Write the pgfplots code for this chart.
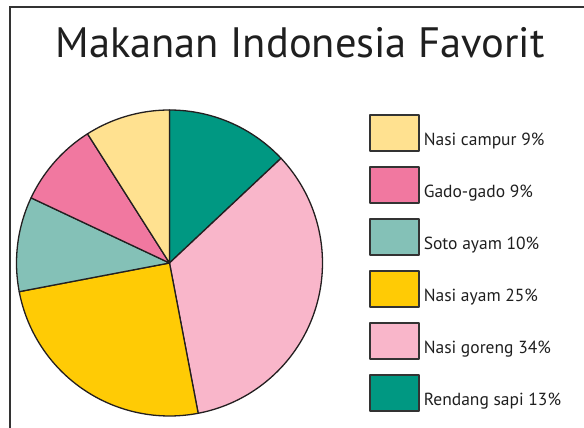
\documentclass[border=0pt]{standalone}
\usepackage{pgfplots}
\pgfplotsset{compat=1.18}
\usepackage{fontspec}
\setmainfont{PT Sans}
\definecolor{cCampur}{HTML}{FFE190}
\definecolor{cGado}{HTML}{F178A0}
\definecolor{cSoto}{HTML}{84C1B7}
\definecolor{cAyam}{HTML}{FFCB05}
\definecolor{cGoreng}{HTML}{F9B6CA}
\definecolor{cRendang}{HTML}{009882}
\definecolor{edge}{HTML}{231F20}
\definecolor{frame}{HTML}{333333}
% percentages, clockwise from the top
\def\pRendang{13}
\def\pGoreng{34}
\def\pAyam{25}
\def\pSoto{10}
\def\pGado{9}
\def\pCampur{9}
\begin{document}
\begin{tikzpicture}[x=1pt,y=1pt]
\useasboundingbox (0,0) rectangle (584,428);
\draw[frame, line width=2pt] (10,0) -- (10,421) -- (584,421);
\node[anchor=base, inner sep=0pt, font=\fontsize{42.5}{48}\selectfont, text=black!88] at (300,370) {Makanan Indonesia Favorit};
\pgfmathsetmacro\aA{90}
\pgfmathsetmacro\aB{\aA-3.6*\pRendang}
\pgfmathsetmacro\aC{\aB-3.6*\pGoreng}
\pgfmathsetmacro\aD{\aC-3.6*\pAyam}
\pgfmathsetmacro\aE{\aD-3.6*\pSoto}
\pgfmathsetmacro\aF{\aE-3.6*\pGado}
\pgfmathsetmacro\aG{\aF-3.6*\pCampur}
\begin{axis}[
  at={(16.5pt,12pt)}, anchor=south west,
  width=306pt, height=306pt, scale only axis,
  xmin=-1, xmax=1, ymin=-1, ymax=1, enlargelimits=false,
  hide axis, clip=false,
  every axis plot/.append style={draw=edge, line width=1.3pt, line join=round},
  legend image code/.code={\draw[#1, draw=frame, line width=1.6pt] (0pt,-11pt) rectangle (49pt,25pt);},
  reverse legend,
  legend cell align=left,
  legend style={at={(axis description cs:1.152,0.987)}, anchor=north west,
    draw=none, fill=none, inner sep=0pt, row sep=14.4pt, column sep=4pt,
    nodes={inner sep=0pt, text=black!88},
    font=\fontsize{17.5}{20}\selectfont},
]
\addplot[fill=cRendang, domain=\aB:\aA, samples=40, variable=\t] ({cos(\t)},{sin(\t)}) -- (0,0) -- cycle;
\addlegendentry{Rendang sapi 13\%}
\addplot[fill=cGoreng, domain=\aC:\aB, samples=80, variable=\t] ({cos(\t)},{sin(\t)}) -- (0,0) -- cycle;
\addlegendentry{Nasi goreng 34\%}
\addplot[fill=cAyam, domain=\aD:\aC, samples=60, variable=\t] ({cos(\t)},{sin(\t)}) -- (0,0) -- cycle;
\addlegendentry{Nasi ayam 25\%}
\addplot[fill=cSoto, domain=\aE:\aD, samples=30, variable=\t] ({cos(\t)},{sin(\t)}) -- (0,0) -- cycle;
\addlegendentry{Soto ayam 10\%}
\addplot[fill=cGado, domain=\aF:\aE, samples=30, variable=\t] ({cos(\t)},{sin(\t)}) -- (0,0) -- cycle;
\addlegendentry{Gado-gado 9\%}
\addplot[fill=cCampur, domain=\aG:\aF, samples=30, variable=\t] ({cos(\t)},{sin(\t)}) -- (0,0) -- cycle;
\addlegendentry{Nasi campur 9\%}
\end{axis}
\end{tikzpicture}
\end{document}
